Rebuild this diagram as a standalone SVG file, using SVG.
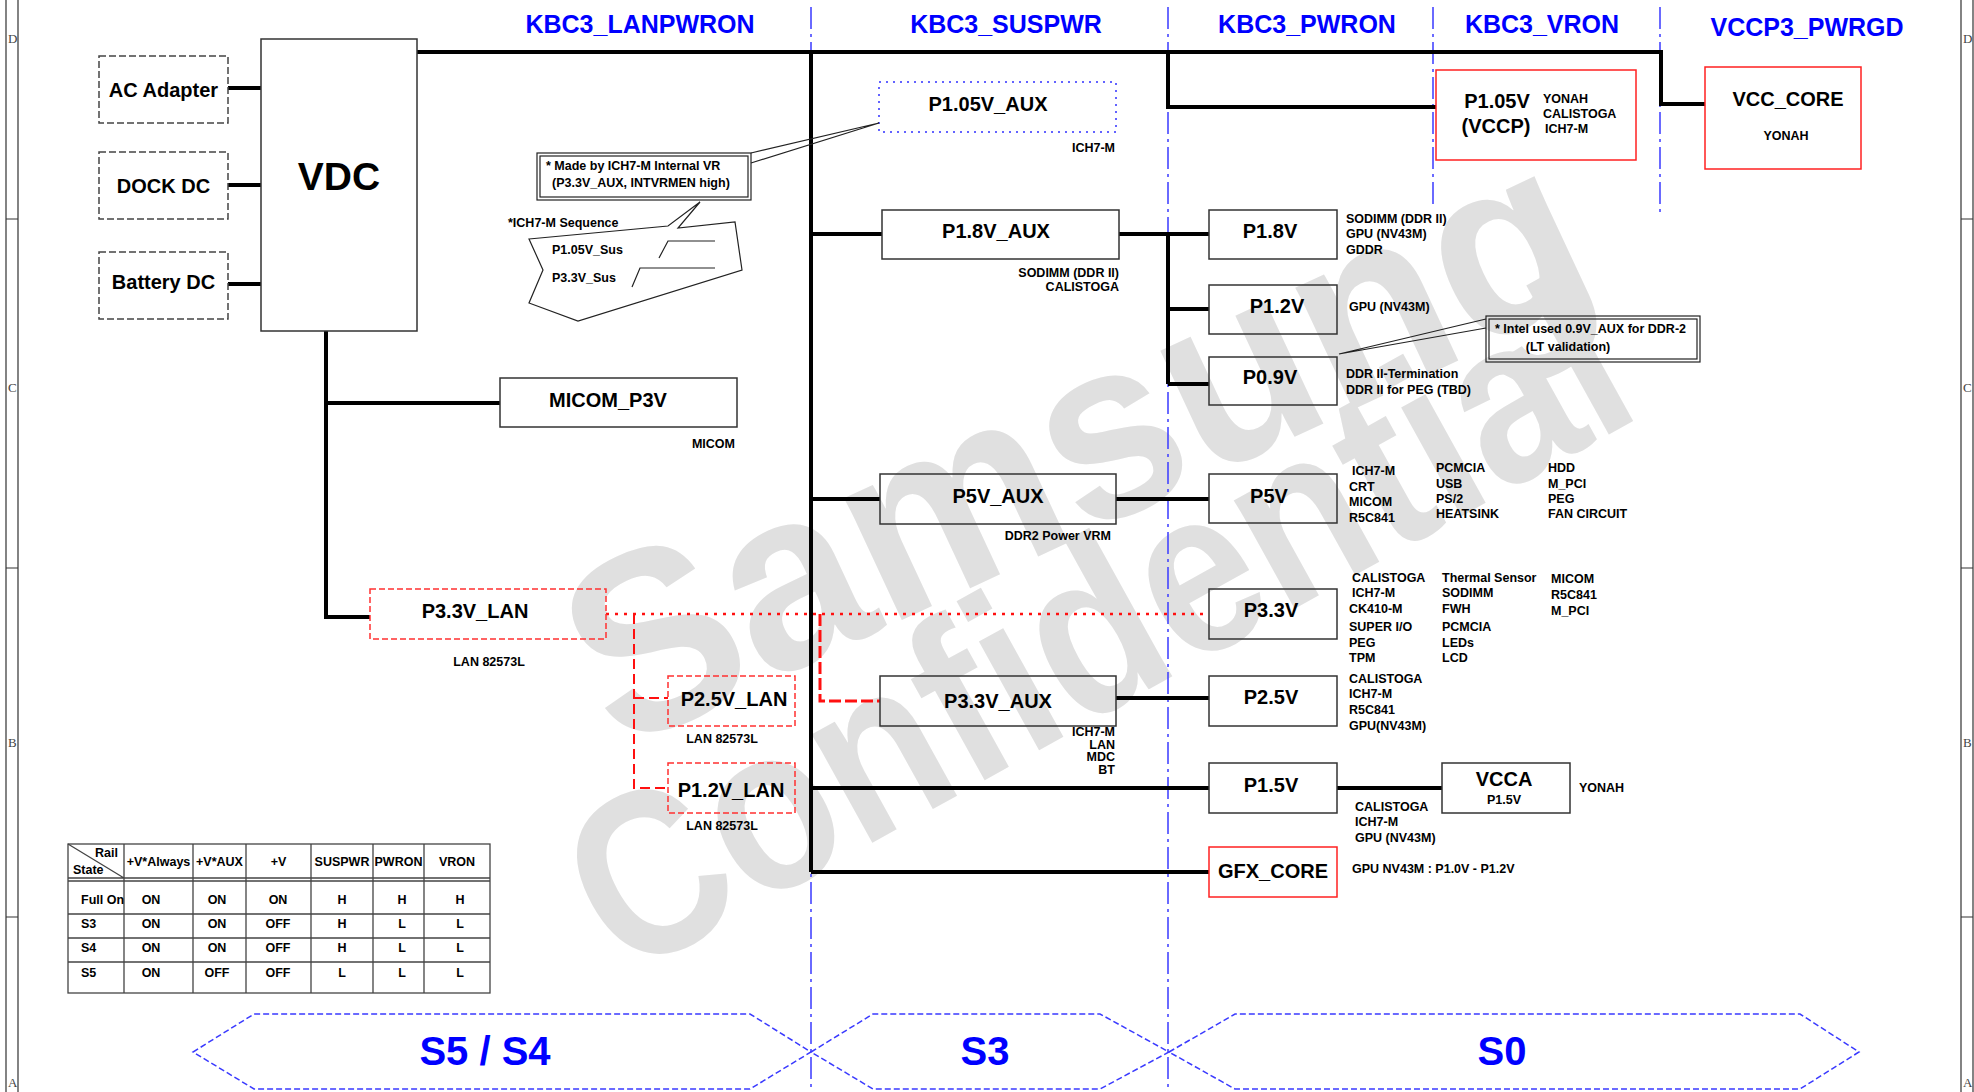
<svg xmlns="http://www.w3.org/2000/svg" width="1974" height="1092" viewBox="0 0 1974 1092">
<defs><style>
text{font-family:"Liberation Sans",Arial,sans-serif;font-weight:bold;fill:#000}
.b20{font-size:20px}
.s{font-size:12.5px}
.hdr{font-size:25px;fill:#0000ff}
.st{font-size:40px;fill:#0000ff}
.wm{fill:#e0e0e0}
.box{fill:none;stroke:#333;stroke-width:1.5}
.dbox{fill:none;stroke:#444;stroke-width:1.5;stroke-dasharray:7 3}
.rbox{fill:none;stroke:#ff2020;stroke-width:1.5}
.rdbox{fill:none;stroke:#ff3030;stroke-width:1.5;stroke-dasharray:6 3}
.w{fill:none;stroke:#000;stroke-width:4}
.bl{fill:none;stroke:#3a3aff;stroke-width:1.5;stroke-dasharray:22 5 3 5}
.hex{fill:none;stroke:#3a3aff;stroke-width:1.5;stroke-dasharray:6 3}
.tb{fill:none;stroke:#444;stroke-width:1.3}
.thin{fill:none;stroke:#222;stroke-width:1.2}
.mg{font-family:"Liberation Serif",serif;font-weight:normal;font-size:13px;fill:#444}
.e{text-anchor:end}
.m{text-anchor:middle}
</style></defs>
<rect width="1974" height="1092" fill="#fff"/>
<g id="watermark">
<text class="wm" x="0" y="0" font-size="255" text-anchor="middle" transform="translate(1112 522) rotate(-25) scale(0.95 1)">Samsung</text>
<text class="wm" x="0" y="0" font-size="235" text-anchor="middle" transform="translate(1135 697) rotate(-29) scale(0.86 1)">Confidential</text>
</g>
<g id="border" fill="none" stroke="#333" stroke-width="1.2">
<path d="M6 0V1092M18 0V1092M6 219H18M6 568H18M6 917H18M1961 0V1092M1973 0V1092M1961 219H1973M1961 568H1973M1961 917H1973"/>
</g>
<g id="margin-letters">
<text class="mg" x="8" y="43">D</text><text class="mg" x="8" y="392">C</text><text class="mg" x="8" y="747">B</text><text class="mg" x="8" y="1087">A</text>
<text class="mg" x="1963" y="43">D</text><text class="mg" x="1963" y="392">C</text><text class="mg" x="1963" y="747">B</text><text class="mg" x="1963" y="1087">A</text>
</g>
<g id="headers">
<text class="hdr m" x="640" y="33">KBC3_LANPWRON</text>
<text class="hdr m" x="1006" y="33">KBC3_SUSPWR</text>
<text class="hdr m" x="1307" y="33">KBC3_PWRON</text>
<text class="hdr m" x="1542" y="33">KBC3_VRON</text>
<text class="hdr m" x="1807" y="36">VCCP3_PWRGD</text>
</g>
<g id="dividers">
<path class="bl" d="M811 7V1092M1168 7V1092M1433 7V204M1660 7V212"/>
</g>
<g id="states">
<polygon class="hex" points="193,1052 254,1014 750,1014 811,1052 750,1089 254,1089"/>
<polygon class="hex" points="811,1052 873,1014 1100,1014 1169,1052 1100,1089 873,1089"/>
<polygon class="hex" points="1169,1052 1235,1014 1800,1014 1859,1052 1800,1089 1235,1089"/>
<text class="st m" x="485" y="1065">S5 / S4</text>
<text class="st m" x="985" y="1065">S3</text>
<text class="st m" x="1502" y="1065">S0</text>
</g>
<g id="connectors">
<path class="w" d="M417 52H1661V104H1705"/>
<path class="w" d="M228 88H261M228 185H261M228 284H261"/>
<path class="w" d="M326 331V617H370M326 403H500"/>
<path class="w" d="M811 52V872M811 234H882M811 499H880M811 788H1209M811 872H1209"/>
<path class="w" d="M1119 234H1209M1168 234V384M1168 309H1209M1168 384H1209"/>
<path class="w" d="M1116 499H1209M1116 698H1209M1337 788H1442"/>
<path class="w" d="M1168 52V107H1436"/>
<path fill="none" stroke="#ff1010" stroke-width="2.5" stroke-dasharray="3 6" d="M606 614H1209"/>
<path fill="none" stroke="#ff1010" stroke-width="2" stroke-dasharray="10 5" d="M634 614V788H668M634 698H668"/>
<path fill="none" stroke="#ff1010" stroke-width="3" stroke-dasharray="12 4" d="M820 614V701H880"/>
</g>
<g id="ac-adapter"><rect class="dbox" x="99" y="56" width="129" height="67"/><text class="b20 m" x="163.5" y="97">AC Adapter</text></g>
<g id="dock-dc"><rect class="dbox" x="99" y="152" width="129" height="67"/><text class="b20 m" x="163.5" y="193">DOCK DC</text></g>
<g id="battery-dc"><rect class="dbox" x="99" y="252" width="129" height="67"/><text class="b20 m" x="163.5" y="289">Battery DC</text></g>
<g id="vdc"><rect class="box" x="261" y="39" width="156" height="292"/><text class="m" x="339" y="190" font-size="39">VDC</text></g>
<g id="micom-p3v"><rect class="box" x="500" y="378" width="237" height="49"/><text class="b20 m" x="608" y="407">MICOM_P3V</text><text class="s e" x="735" y="448">MICOM</text></g>
<g id="p33v-lan"><rect class="rdbox" x="370" y="589" width="236" height="50"/><text class="b20 m" x="475" y="618">P3.3V_LAN</text><text class="s m" x="489" y="666">LAN 82573L</text></g>
<g id="p25v-lan"><rect class="rdbox" x="668" y="676" width="127" height="50"/><text class="b20 m" x="734" y="706">P2.5V_LAN</text><text class="s m" x="722" y="743">LAN 82573L</text></g>
<g id="p12v-lan"><rect class="rdbox" x="668" y="763" width="127" height="50"/><text class="b20 m" x="731" y="797">P1.2V_LAN</text><text class="s m" x="722" y="830">LAN 82573L</text></g>
<g id="p105v-aux"><rect x="879" y="82" width="237" height="50" fill="none" stroke="#3030ff" stroke-width="1.5" stroke-dasharray="2 5"/><text class="b20 m" x="988" y="111">P1.05V_AUX</text><text class="s e" x="1115" y="152">ICH7-M</text></g>
<g id="p18v-aux"><rect class="box" x="882" y="210" width="237" height="49"/><text class="b20 m" x="996" y="238">P1.8V_AUX</text><text class="s e" x="1119" y="277">SODIMM (DDR II)</text><text class="s e" x="1119" y="291">CALISTOGA</text></g>
<g id="p5v-aux"><rect class="box" x="880" y="474" width="236" height="50"/><text class="b20 m" x="998" y="503">P5V_AUX</text><text class="s e" x="1111" y="540">DDR2 Power VRM</text></g>
<g id="p33v-aux"><rect class="box" x="880" y="676" width="236" height="50"/><text class="b20 m" x="998" y="708">P3.3V_AUX</text><text class="s e" x="1115" y="736">ICH7-M</text><text class="s e" x="1115" y="749">LAN</text><text class="s e" x="1115" y="761">MDC</text><text class="s e" x="1115" y="774">BT</text></g>
<g id="p18v"><rect class="box" x="1209" y="210" width="128" height="49"/><text class="b20 m" x="1270" y="238">P1.8V</text><text class="s" x="1346" y="223">SODIMM (DDR II)</text><text class="s" x="1346" y="238">GPU (NV43M)</text><text class="s" x="1346" y="254">GDDR</text></g>
<g id="p12v"><rect class="box" x="1209" y="285" width="128" height="49"/><text class="b20 m" x="1277" y="313">P1.2V</text><text class="s" x="1349" y="311">GPU (NV43M)</text></g>
<g id="p09v"><rect class="box" x="1209" y="357" width="128" height="48"/><text class="b20 m" x="1270" y="384">P0.9V</text><text class="s" x="1346" y="378">DDR II-Termination</text><text class="s" x="1346" y="394">DDR II for PEG (TBD)</text></g>
<g id="p5v"><rect class="box" x="1209" y="474" width="128" height="49"/><text class="b20 m" x="1269" y="503">P5V</text>
<text class="s" x="1352" y="475">ICH7-M</text><text class="s" x="1349" y="491">CRT</text><text class="s" x="1349" y="506">MICOM</text><text class="s" x="1349" y="522">R5C841</text>
<text class="s" x="1436" y="472">PCMCIA</text><text class="s" x="1436" y="488">USB</text><text class="s" x="1436" y="503">PS/2</text><text class="s" x="1436" y="518">HEATSINK</text>
<text class="s" x="1548" y="472">HDD</text><text class="s" x="1548" y="488">M_PCI</text><text class="s" x="1548" y="503">PEG</text><text class="s" x="1548" y="518">FAN CIRCUIT</text></g>
<g id="p33v"><rect class="box" x="1209" y="589" width="128" height="50"/><text class="b20 m" x="1271" y="617">P3.3V</text>
<text class="s" x="1352" y="582">CALISTOGA</text><text class="s" x="1352" y="597">ICH7-M</text><text class="s" x="1349" y="613">CK410-M</text><text class="s" x="1349" y="631">SUPER I/O</text><text class="s" x="1349" y="647">PEG</text><text class="s" x="1349" y="662">TPM</text>
<text class="s" x="1442" y="582">Thermal Sensor</text><text class="s" x="1442" y="597">SODIMM</text><text class="s" x="1442" y="613">FWH</text><text class="s" x="1442" y="631">PCMCIA</text><text class="s" x="1442" y="647">LEDs</text><text class="s" x="1442" y="662">LCD</text>
<text class="s" x="1551" y="583">MICOM</text><text class="s" x="1551" y="599">R5C841</text><text class="s" x="1551" y="615">M_PCI</text></g>
<g id="p25v"><rect class="box" x="1209" y="676" width="128" height="50"/><text class="b20 m" x="1271" y="704">P2.5V</text><text class="s" x="1349" y="683">CALISTOGA</text><text class="s" x="1349" y="698">ICH7-M</text><text class="s" x="1349" y="714">R5C841</text><text class="s" x="1349" y="730">GPU(NV43M)</text></g>
<g id="p15v"><rect class="box" x="1209" y="763" width="128" height="50"/><text class="b20 m" x="1271" y="792">P1.5V</text><text class="s" x="1355" y="811">CALISTOGA</text><text class="s" x="1355" y="826">ICH7-M</text><text class="s" x="1355" y="842">GPU (NV43M)</text></g>
<g id="vcca"><rect class="box" x="1442" y="763" width="128" height="50"/><text class="b20 m" x="1504" y="786">VCCA</text><text class="s m" x="1504" y="804">P1.5V</text><text class="s" x="1579" y="792">YONAH</text></g>
<g id="gfx-core"><rect class="rbox" x="1209" y="847" width="128" height="50"/><text class="b20 m" x="1273" y="878">GFX_CORE</text><text class="s" x="1352" y="873">GPU NV43M : P1.0V - P1.2V</text></g>
<g id="p105v-vccp"><rect class="rbox" x="1436" y="70" width="200" height="90"/><text class="b20 m" x="1497" y="108">P1.05V</text><text class="b20 m" x="1496" y="133">(VCCP)</text><text class="s" x="1543" y="103">YONAH</text><text class="s" x="1543" y="118">CALISTOGA</text><text class="s" x="1545" y="133">ICH7-M</text></g>
<g id="vcc-core"><rect class="rbox" x="1705" y="67" width="156" height="102"/><text class="b20 m" x="1788" y="106">VCC_CORE</text><text class="s m" x="1786" y="140">YONAH</text></g>
<g id="note-ich7">
<rect class="thin" x="537" y="153" width="214" height="47"/><rect class="thin" x="540" y="156" width="208" height="41"/>
<text class="s" x="546" y="170">* Made by ICH7-M Internal VR</text><text class="s" x="552" y="187">(P3.3V_AUX, INTVRMEN high)</text>
<path class="thin" d="M751 153L879 123L751 163"/>
</g>
<g id="note-sequence">
<polygon class="thin" points="529,239 668,226 700,202 678,228 735,222 742,270 578,321 529,303 543,270"/>
<text class="s" x="508" y="227">*ICH7-M Sequence</text>
<text class="s" x="552" y="254">P1.05V_Sus</text><text class="s" x="552" y="282">P3.3V_Sus</text>
<path class="thin" d="M659 258L668 241H715M632 287L640 268H715"/>
</g>
<g id="note-intel">
<rect class="thin" x="1486" y="316" width="214" height="46"/><rect class="thin" x="1489" y="319" width="208" height="40"/>
<text class="s" x="1495" y="333">* Intel used 0.9V_AUX for DDR-2</text><text class="s m" x="1568" y="351">(LT validation)</text>
<path class="thin" d="M1486 319L1339 354L1486 328"/>
</g>
<g id="state-table">
<rect class="tb" x="68" y="844" width="422" height="149"/>
<path class="tb" d="M124 844V993M193 844V993M246 844V993M311 844V993M373 844V993M424 844V993M68 878H490M68 881H490M68 914H490M68 938H490M68 962H490M68 844L124 878"/>
<text class="s e" x="118" y="857">Rail</text><text class="s" x="73" y="874">State</text>
<text class="s m" x="158.5" y="866">+V*Always</text><text class="s m" x="219.5" y="866">+V*AUX</text><text class="s m" x="278.5" y="866">+V</text><text class="s m" x="342" y="866">SUSPWR</text><text class="s m" x="398.5" y="866">PWRON</text><text class="s m" x="457" y="866">VRON</text>
<text class="s" x="81" y="904">Full On</text><text class="s m" x="151" y="904">ON</text><text class="s m" x="217" y="904">ON</text><text class="s m" x="278" y="904">ON</text><text class="s m" x="342" y="904">H</text><text class="s m" x="402" y="904">H</text><text class="s m" x="460" y="904">H</text>
<text class="s" x="81" y="928">S3</text><text class="s m" x="151" y="928">ON</text><text class="s m" x="217" y="928">ON</text><text class="s m" x="278" y="928">OFF</text><text class="s m" x="342" y="928">H</text><text class="s m" x="402" y="928">L</text><text class="s m" x="460" y="928">L</text>
<text class="s" x="81" y="952">S4</text><text class="s m" x="151" y="952">ON</text><text class="s m" x="217" y="952">ON</text><text class="s m" x="278" y="952">OFF</text><text class="s m" x="342" y="952">H</text><text class="s m" x="402" y="952">L</text><text class="s m" x="460" y="952">L</text>
<text class="s" x="81" y="977">S5</text><text class="s m" x="151" y="977">ON</text><text class="s m" x="217" y="977">OFF</text><text class="s m" x="278" y="977">OFF</text><text class="s m" x="342" y="977">L</text><text class="s m" x="402" y="977">L</text><text class="s m" x="460" y="977">L</text>
</g>
</svg>
